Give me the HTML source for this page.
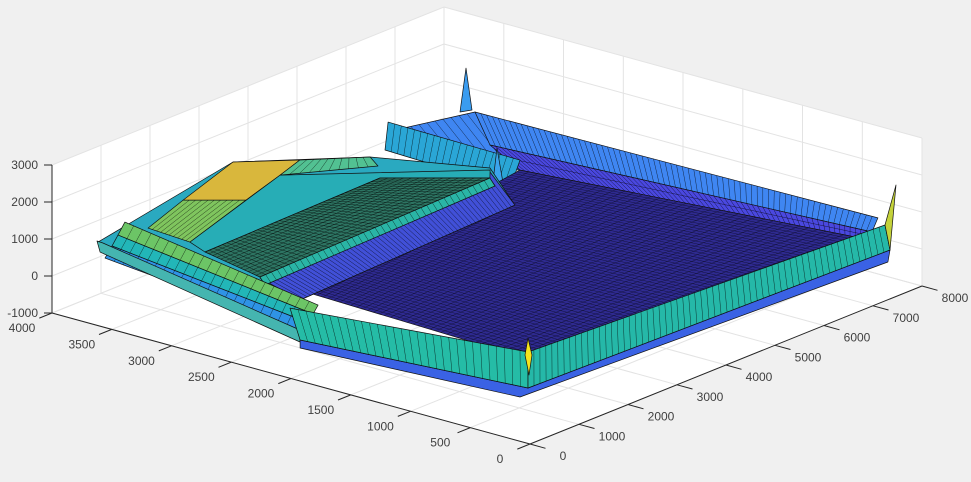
<!DOCTYPE html>
<html><head><meta charset="utf-8"><style>
html,body{margin:0;padding:0;background:#f0f0f0;}
svg{display:block;font-family:"Liberation Sans",sans-serif;}
</style></head><body>
<svg id="chart" width="971" height="482" viewBox="0 0 971 482" xmlns="http://www.w3.org/2000/svg">
<g id="axes-bg"></g>
<g id="grid"></g>
<g id="surface"></g>
<g id="axislines"></g>
<g id="labels"></g>
</svg>
<script>
// axis ticks
const xTicks = [0,1000,2000,3000,4000,5000,6000,7000,8000];
const yTicks = [0,500,1000,1500,2000,2500,3000,3500,4000];
const zTicks = [-1000,0,1000,2000,3000];
const xTickLabels = ["0","1000","2000","3000","4000","5000","6000","7000","8000"];
const yTickLabels = ["0","500","1000","1500","2000","2500","3000","3500","4000"];
const zTickLabels = ["-1000","0","1000","2000","3000"];

// surface patches (x, y, z vertex data + color data)
const patchNames = ["back-wall-left","back-wall-upper","back-wall-lower","back-spike","rear-teal-strip","middle-spike","floor","left-base","left-blue-slope",
 "green-ridge","yellow-ridge","teal-ridge","teal-slope","green-plateau","plateau-rim",
 "left-strip-green","left-strip-teal","left-strip-blue","left-lip","underside-band","front-strip-left","front-strip-right",
 "front-spike","right-spike"];
const patchX = [[5560,6765,7059,6535],[6765,7457,7208,6674],[6674,7208,7843,7059],[6639,6897,6800],[6300,6245,6437,6547],[6226,6418,6184],
 [1440,7843,7059,1620],[1402,2143,3984,4641,5960,1325,119],[1655,6751,5960,1325],
 [1141,1663,1047,564],[2143,2755,2696,1663,1141],[2755,3984,3778,2696],
 [1047,2696,4582,5455,4547,871],[871,4547,5455,571],[571,5455,5255,372],
 [1112,206,231,998],[998,231,260,953],[953,260,290,867],[533,522,420,59,449],
 [119,556,7706,7327,218,-122],[1000,1641,556,119],[1641,7859,7706,556],
 [1525,390,1584,956],[7859,7484,7706]];
const patchY = [[3410,3234,2978,3600],[3234,146,94,3071],[3071,94,371,2978],[3308,3364,3274],[3771,2644,2806,3898],[2871,2908,2744],
 [630,371,2978,2590],[4190,3364,2972,2238,2570,2468,1973],[2938,3103,2570,2468],
 [3371,3058,3275,3428],[3364,3055,3197,3058,3371],[3055,2972,2821,3197],
 [3275,3197,2213,2572,3120,3077],[3077,3120,2572,2494],[2494,2572,2448,2370],
 [3846,1858,1910,3857],[3857,1910,1956,3889],[3889,1956,2002,3912],[3842,3788,2097,1949,3782],
 [1973,245,147,9,173,1874],[2418,690,245,1973],[690,252,147,245],
 [667,177,633,400],[252,6,147]];
const patchZ = [[1500,1500,0,0],[1500,1000,800,800],[800,800,0,0],[1500,2500,1500],[1000,1000,0,0],[0,1000,0],
 [0,0,0,0],[0,2500,2000,2000,0,0,0],[0,0,0,0],
 [2000,2000,1000,1500],[2500,2500,2000,2000,2000],[2500,2000,2000,2000],
 [1000,2000,2000,1000,1000,1000],[1000,1000,1000,1000],[1000,1000,1000,1000],
 [1000,1000,700,700],[700,700,400,400],[400,400,100,100],[800,800,0,0,600],
 [0,0,0,0,0,0],[0,0,0,0],[0,500,0,0],
 [0,1500,0,0],[500,2000,0]];
const patchColors = ["#3f86f2","#3f86f2","#4a48e0","#3a9cf0","#2aa6d6","#3ba4ec","#2e2a90","#2aa9c0","#4150d8",
 "#7fc55e","#d9b73c","#52c192","#27adb6","#2d7462","#2ab5a6",
 "#6cc566","#22b6b8","#2f93e6","#45b5b0","#3a62e4","#25bca6","#25b8a8",
 "#f5e31d","#c4d23a"];
const meshU = [10,70,70,0,20,0,70,0,60,10,10,10,0,40,40,22,22,22,20,0,30,60,0,0];
const meshV = [0,0,2,0,0,0,40,0,0,0,0,0,0,14,0,0,0,0,0,0,0,0,0,0];

function P(x,y,z){
  const a=x/8000,b=y/4000,c=(z+1000)/4000;
  return [530+392*a-478*b, 444-158*a-131*b-148*c];
}
const NS="http://www.w3.org/2000/svg";
function mk(tag,attrs,parent){const e=document.createElementNS(NS,tag);for(const k in attrs)e.setAttribute(k,attrs[k]);parent.appendChild(e);return e;}
const gBg=document.getElementById('axes-bg'),gGrid=document.getElementById('grid'),gS=document.getElementById('surface'),gA=document.getElementById('axislines'),gL=document.getElementById('labels');

const hex=[P(0,0,-1000),P(8000,0,-1000),P(8000,0,3000),P(8000,4000,3000),P(0,4000,3000),P(0,4000,-1000)];
const bg=mk('polygon',{points:hex.map(p=>p.join(',')).join(' '),fill:'#ffffff'},gBg);



function line(p,q,col,w,parent,name){
  const l=mk('line',{x1:p[0].toFixed(1),y1:p[1].toFixed(1),x2:q[0].toFixed(1),y2:q[1].toFixed(1),stroke:col,'stroke-width':w},parent);
  
  
  return l;
}
const gc='#e3e3e3';
xTicks.forEach(x=>{line(P(x,0,-1000),P(x,4000,-1000),gc,1,gGrid,'x-gridline');line(P(x,4000,-1000),P(x,4000,3000),gc,1,gGrid,'x-gridline');});
yTicks.forEach(y=>{line(P(0,y,-1000),P(8000,y,-1000),gc,1,gGrid,'y-gridline');line(P(8000,y,-1000),P(8000,y,3000),gc,1,gGrid,'y-gridline');});
zTicks.forEach(z=>{line(P(0,4000,z),P(8000,4000,z),gc,1,gGrid,'z-gridline');line(P(8000,0,z),P(8000,4000,z),gc,1,gGrid,'z-gridline');});

function lerp(p,q,t){return [p[0]+(q[0]-p[0])*t,p[1]+(q[1]-p[1])*t];}
patchNames.forEach((nm,i)=>{
  const pts=patchX[i].map((x,j)=>P(x,patchY[i][j],patchZ[i][j]));
  const g=mk('g',{},gS);
  
  
  mk('polygon',{points:pts.map(p=>p[0].toFixed(1)+','+p[1].toFixed(1)).join(' '),fill:patchColors[i],stroke:'#111','stroke-width':0.7,'stroke-linejoin':'round'},g);
  const op = nm==='floor'?0.55:0.7;
  if(pts.length===4){
    const [v0,v1,v2,v3]=pts;
    for(let k=1;k<meshU[i];k++){const t=k/meshU[i];const a=lerp(v0,v1,t),b=lerp(v3,v2,t);
      mk('line',{x1:a[0].toFixed(1),y1:a[1].toFixed(1),x2:b[0].toFixed(1),y2:b[1].toFixed(1),stroke:'#000','stroke-width':0.5,'stroke-opacity':op},g);}
    for(let k=1;k<meshV[i];k++){const t=k/meshV[i];const a=lerp(v0,v3,t),b=lerp(v1,v2,t);
      mk('line',{x1:a[0].toFixed(1),y1:a[1].toFixed(1),x2:b[0].toFixed(1),y2:b[1].toFixed(1),stroke:'#000','stroke-width':0.5,'stroke-opacity':op},g);}
  }
});

const ac='#262626';
line(P(0,0,-1000),P(8000,0,-1000),ac,1,gA,'x-axis-line');
line(P(0,0,-1000),P(0,4000,-1000),ac,1,gA,'y-axis-line');
line(P(0,4000,-1000),P(0,4000,3000),ac,1,gA,'z-axis-line');

function text(s,x,y,anchor,name){
  const t=mk('text',{x:x.toFixed(1),y:y.toFixed(1),'text-anchor':anchor,'font-size':'12','fill':'#404040'},gL);
  t.textContent=s;
  
  
}
xTicks.forEach((x,i)=>{const p=P(x,0,-1000);line(p,P(x,-130,-1000),ac,1,gA,'x-tick');text(xTickLabels[i],p[0]+33,p[1]+16,'middle','x-tick-label');});
yTicks.forEach((y,i)=>{const p=P(0,y,-1000);line(p,P(-260,y,-1000),ac,1,gA,'y-tick');text(yTickLabels[i],p[0]-30,p[1]+19,'middle','y-tick-label');});
zTicks.forEach((z,i)=>{const p=P(0,4000,z);line(p,[p[0]-8,p[1]],ac,1,gA,'z-tick');text(zTickLabels[i],p[0]-14,p[1]+4,'end','z-tick-label');});
</script>
</body></html>
